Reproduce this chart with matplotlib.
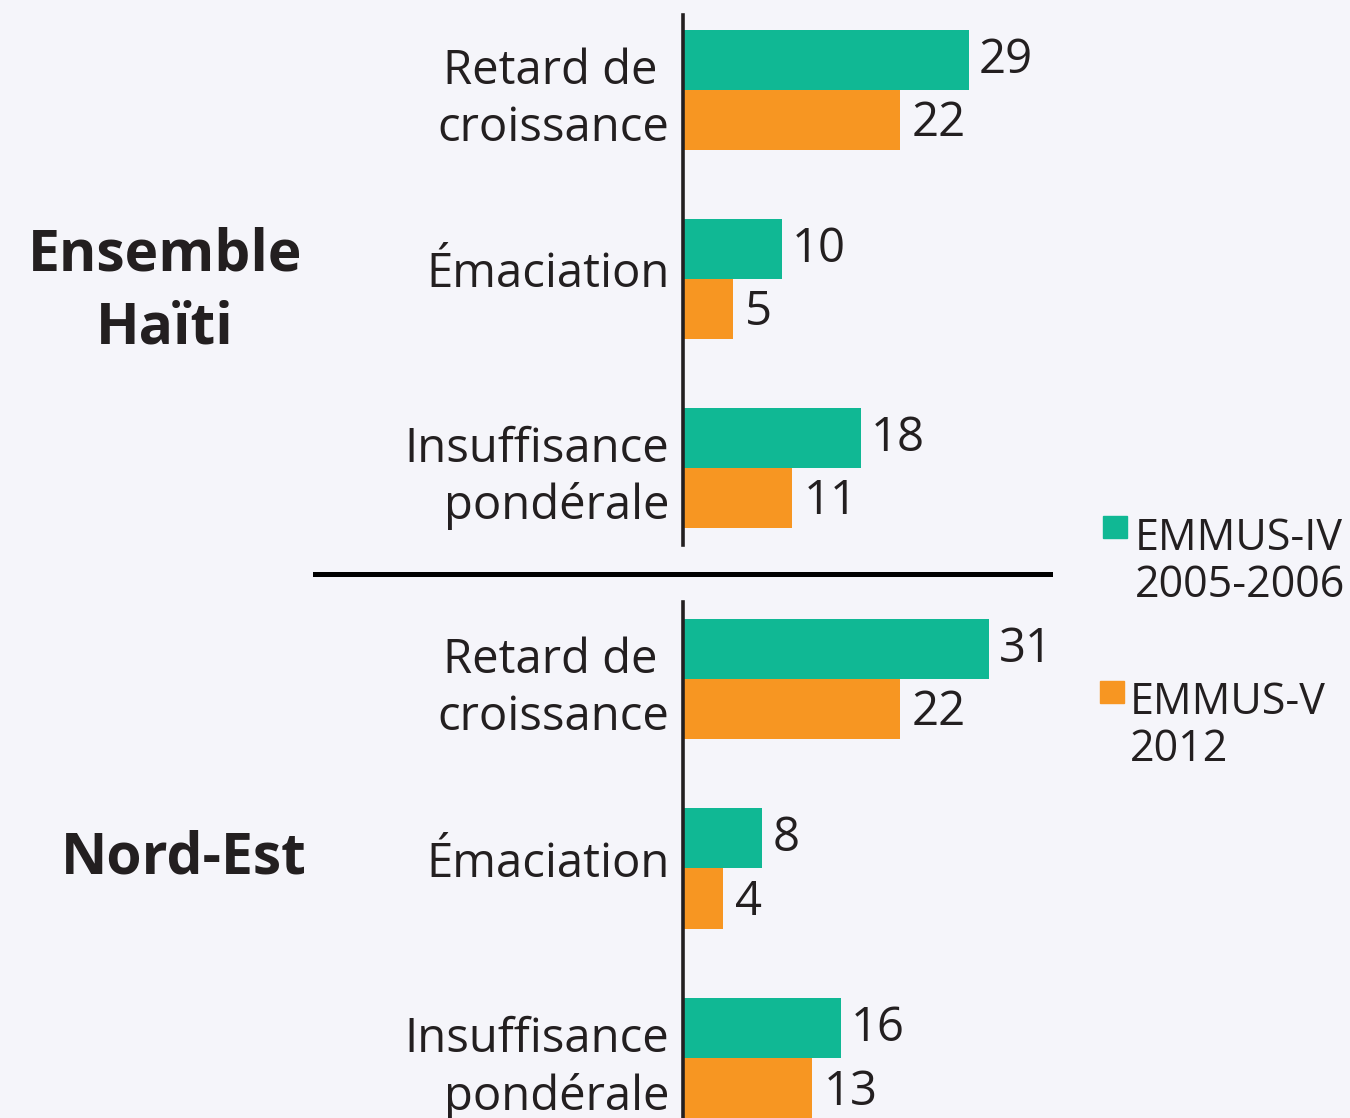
import matplotlib.pyplot as plt
from matplotlib.lines import Line2D
from matplotlib.patches import Rectangle
from matplotlib.transforms import ScaledTranslation
import numpy as np

# data
categories = ["Retard de \ncroissance", "Émaciation", "Insuffisance\npondérale"]
regions = ["Ensemble\nHaïti", "Nord-Est"]
series = ["EMMUS-IV\n2005-2006", "EMMUS-V\n2012"]
haiti_2005 = [29, 10, 18]
haiti_2012 = [22, 5, 11]
nordest_2005 = [31, 8, 16]
nordest_2012 = [22, 4, 13]

TEAL = "#10b894"
ORANGE = "#f79622"
BG = "#f5f5fa"
INK = "#231f20"

plt.rcParams["font.family"] = ["Open Sans", "DejaVu Sans"]

W, H = 1350, 1118
fig = plt.figure(figsize=(W / 100, H / 100), dpi=100, facecolor=BG)


def px_axes(left, top, width, height):
    """Add axes using pixel coordinates measured from the top-left corner."""
    return fig.add_axes([left / W, 1 - (top + height) / H, width / W, height / H])


def draw_panel(ax, first, second, ylim):
    y = np.arange(len(categories))
    h = 0.317
    ax.barh(y - h / 2, first, height=h, color=TEAL)
    ax.barh(y + h / 2, second, height=h, color=ORANGE)

    for yy, v in zip(y - h / 2, first):
        ax.text(v + 1.0, yy, str(v), va="center", ha="left", fontsize=34, color=INK)
    for yy, v in zip(y + h / 2, second):
        ax.text(v + 1.2, yy + 0.02, str(v), va="center", ha="left", fontsize=34, color=INK)

    ax.set_xlim(0, 40)
    ax.set_ylim(*ylim)
    ax.set_yticks(y, categories)
    ax.set_xticks([])
    ax.tick_params(axis="y", length=0, pad=10, labelsize=34, labelcolor=INK)
    for s in ["top", "right", "bottom"]:
        ax.spines[s].set_visible(False)
    ax.spines["left"].set_linewidth(2.6)
    ax.spines["left"].set_color(INK)
    ax.patch.set_alpha(0)
    labels = ax.get_yticklabels()
    for lab in labels:
        lab.set_linespacing(1.25)
    # the single-line label sits a little above its bars in the original
    labels[1].set_transform(labels[1].get_transform()
                            + ScaledTranslation(0, 0.1, fig.dpi_scale_trans))


ax_top = px_axes(683.5, 15, 394, 530)
draw_panel(ax_top, haiti_2005, haiti_2012, (2 + 77 / 189, -75 / 189))

ax_bot = px_axes(683.5, 602, 394, 516)
draw_panel(ax_bot, nordest_2005, nordest_2012, (2 + 60 / 190, -77 / 190))

# group labels
fig.text(165 / W, 1 - 292 / H, regions[0], ha="center", va="center",
         fontsize=41, fontweight="bold", color=INK, linespacing=1.32)
fig.text(184 / W, 1 - 859 / H, regions[1], ha="center", va="center",
         fontsize=41, fontweight="bold", color=INK)

# separator between the two panels
fig.add_artist(Line2D([315 / W, 1050 / W], [1 - 574 / H] * 2, lw=3.6, color="black"))

# legend drawn by hand
legend_items = [(TEAL, 1103, 516, 1135, 562), (ORANGE, 1100, 681, 1130, 726)]
for (color, sx, sy, tx, ty), label in zip(legend_items, series):
    fig.add_artist(Rectangle((sx / W, 1 - (sy + 22) / H), 24 / W, 22 / H,
                             transform=fig.transFigure, color=color))
    fig.text(tx / W, 1 - ty / H, label, ha="left", va="center",
             fontsize=31, color=INK, linespacing=1.07)

fig.savefig("out.png", dpi=100, facecolor=BG)
